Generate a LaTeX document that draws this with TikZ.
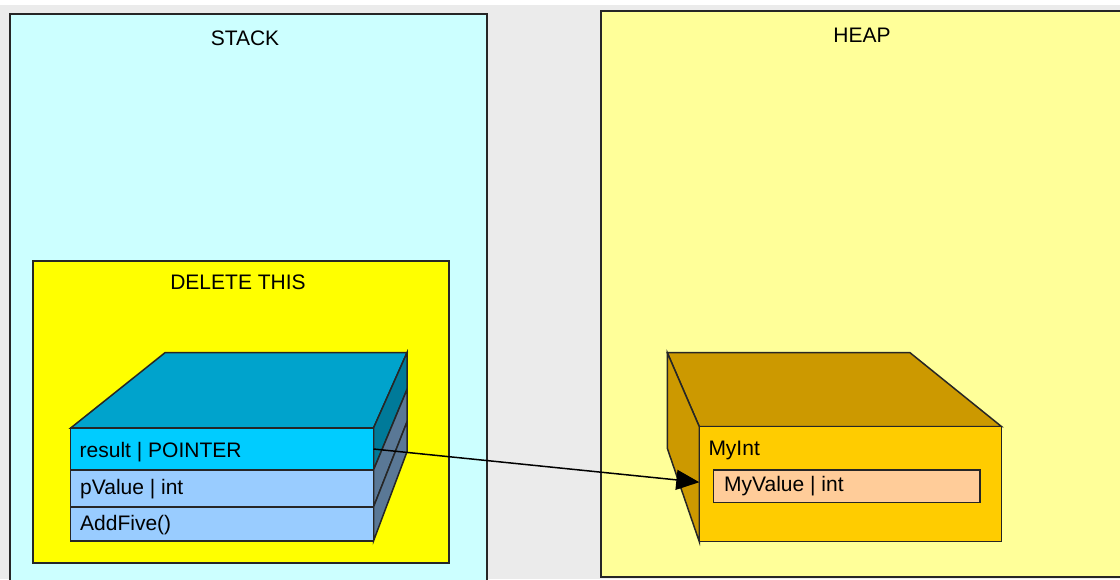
\documentclass[tikz,border=0pt]{standalone}
\usepackage{fontspec}
\setmainfont{Liberation Sans}
\usetikzlibrary{arrows.meta}

\definecolor{bgc}{HTML}{EBEBEB}
\definecolor{stackc}{HTML}{CCFFFF}
\definecolor{heapc}{HTML}{FFFF99}
\definecolor{framec}{HTML}{FFFF00}
\definecolor{ctop}{HTML}{00A3CC}
\definecolor{crow}{HTML}{00CCFF}
\definecolor{crowb}{HTML}{99CCFF}
\definecolor{cside}{HTML}{007A99}
\definecolor{csideb}{HTML}{5A7896}
\definecolor{otop}{HTML}{CC9900}
\definecolor{ofront}{HTML}{FFCC00}
\definecolor{ofield}{HTML}{FFCC99}
\definecolor{linec}{HTML}{262626}

\begin{document}
\begin{tikzpicture}[x=1pt,y=-1pt,
  edge/.style={draw=linec, line width=1.5pt, line join=miter},
  box/.style={edge, rectangle, inner sep=0pt, outer sep=0pt, anchor=north west},
  lbl/.style={inner sep=0pt, anchor=base west, font=\fontsize{21}{25}\selectfont},
  ttl/.style={inner sep=0pt, anchor=base, font=\fontsize{21}{25}\selectfont},
  link/.style={draw=black, line width=1.5pt, -{Triangle[length=23pt,width=20pt]}},
]
\useasboundingbox (0,0) rectangle (1120,579);
\clip (0,0) rectangle (1120,579);
\fill[bgc] (0,0) rectangle (1120,579);
\fill[white] (0,0) rectangle (1120,5);

% memory regions
\node[box, fill=stackc, minimum width=477pt, minimum height=580pt] (stack) at (10,14) {};
\node[ttl] (stacklbl) at (245,45.5) {STACK};
\node[box, fill=heapc, minimum width=540pt, minimum height=566pt] (heap) at (601,11) {};
\node[ttl] (heaplbl) at (862,42) {HEAP};

% stack frame
\node[box, fill=framec, minimum width=416pt, minimum height=302pt] (frame) at (33,261) {};
\node[ttl] (framelbl) at (238,289) {DELETE THIS};

% class box on the stack: top and side faces
\filldraw[edge, fill=ctop] (70.7,428) -- (165,352.7) -- (407,352.7) -- (373.5,428) -- cycle;
\filldraw[edge, fill=cside] (373.5,428) -- (407,352.7) -- (407,389.5) -- (373.5,470) -- cycle;
\filldraw[edge, fill=csideb] (373.5,470) -- (407,389.5) -- (407,421.9) -- (373.5,507) -- cycle;
\filldraw[edge, fill=csideb] (373.5,507) -- (407,421.9) -- (407,451.7) -- (373.5,541) -- cycle;

% class box rows
\node[box, fill=crow, minimum width=302.8pt, minimum height=42pt] (resrow) at (70.7,428) {};
\node[box, fill=crowb, minimum width=302.8pt, minimum height=37pt] (valrow) at (70.7,470) {};
\node[box, fill=crowb, minimum width=302.8pt, minimum height=34pt] (fnrow) at (70.7,507) {};
\node[lbl] (reslbl) at (79.5,457.3) {result | POINTER};
\node[lbl] (vallbl) at (80,494) {pValue | int};
\node[lbl] (fnlbl) at (80,530.7) {AddFive()};

% object on the heap: top and side faces
\filldraw[edge, fill=otop] (667.3,352.7) -- (910,352.7) -- (1001.7,426.7) -- (699.3,426.7) -- cycle;
\filldraw[edge, fill=otop] (667.3,352.7) -- (699.3,426.7) -- (699.3,541.7) -- (667.3,448.3) -- cycle;

% object front face
\node[box, fill=ofront, minimum width=302.4pt, minimum height=115pt] (myint) at (699.3,426.7) {};
\node[lbl] (myintlbl) at (708.3,455) {MyInt};
\node[box, fill=ofield, minimum width=266.7pt, minimum height=32.7pt] (field) at (713.3,470) {};
\node[lbl] (fieldlbl) at (724,491.7) {MyValue | int};

% pointer
\draw[link] (resrow.east) -- ([yshift=2pt]myint.west);
\end{tikzpicture}
\end{document}
